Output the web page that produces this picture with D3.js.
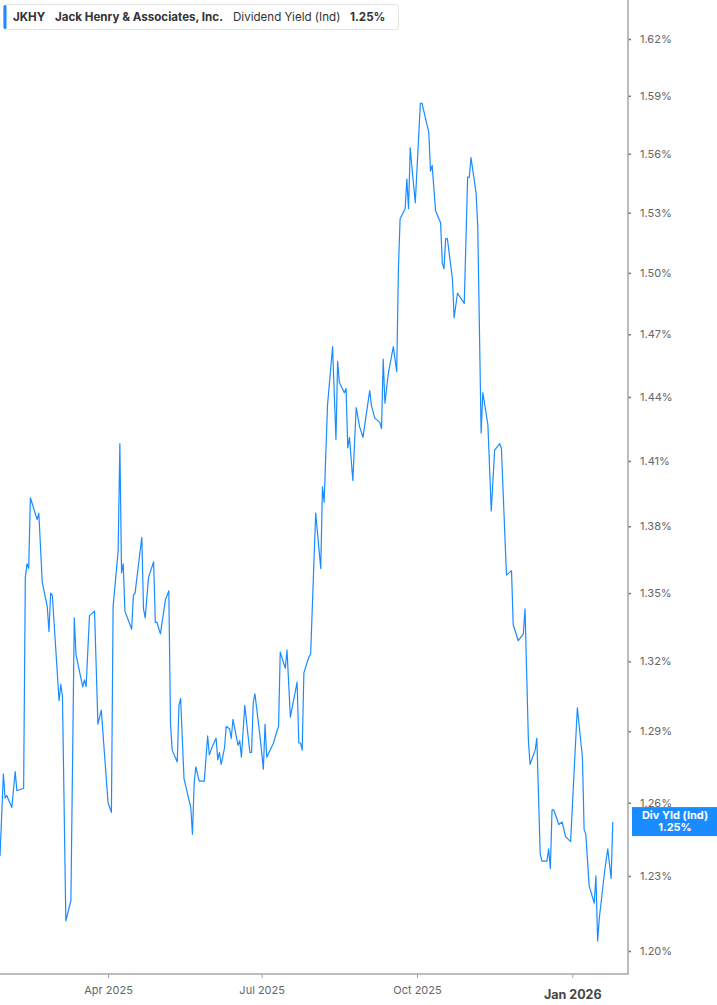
<!DOCTYPE html>
<html>
<head>
<meta charset="utf-8">
<script src="https://cdn.jsdelivr.net/npm/d3@7"></script>
<style>
    html, body { margin: 0; padding: 0; background: #fff; }
    svg { display: block; font-family: Inter, "Noto Sans", "DejaVu Sans", sans-serif; }
</style>
</head>
<body>
<div id="chart_parent"></div>
<script>
// values
const dates = [
    '2025-01-27', '2025-01-29', '2025-01-30', '2025-01-31', '2025-02-03', '2025-02-05', '2025-02-06', '2025-02-10',
    '2025-02-11', '2025-02-12', '2025-02-13', '2025-02-14', '2025-02-18', '2025-02-19', '2025-02-21', '2025-02-24',
    '2025-02-25', '2025-02-26', '2025-02-27', '2025-03-03', '2025-03-04', '2025-03-05', '2025-03-07', '2025-03-10',
    '2025-03-12', '2025-03-13', '2025-03-17', '2025-03-18', '2025-03-19', '2025-03-21', '2025-03-24', '2025-03-26',
    '2025-03-28', '2025-04-01', '2025-04-03', '2025-04-04', '2025-04-07', '2025-04-08', '2025-04-09', '2025-04-10',
    '2025-04-11', '2025-04-15', '2025-04-16', '2025-04-17', '2025-04-21', '2025-04-22', '2025-04-23', '2025-04-25',
    '2025-04-28', '2025-04-29', '2025-04-30', '2025-05-02', '2025-05-05', '2025-05-07', '2025-05-08', '2025-05-09',
    '2025-05-12', '2025-05-13', '2025-05-14', '2025-05-16', '2025-05-20', '2025-05-21', '2025-05-22', '2025-05-23',
    '2025-05-25', '2025-05-28', '2025-05-30', '2025-05-31', '2025-06-02', '2025-06-04', '2025-06-05', '2025-06-06',
    '2025-06-07', '2025-06-09', '2025-06-10', '2025-06-12', '2025-06-13', '2025-06-14', '2025-06-17', '2025-06-18',
    '2025-06-19', '2025-06-21', '2025-06-24', '2025-06-25', '2025-06-26', '2025-06-27', '2025-06-30', '2025-07-02',
    '2025-07-03', '2025-07-04', '2025-07-08', '2025-07-10', '2025-07-11', '2025-07-12', '2025-07-15', '2025-07-16',
    '2025-07-18', '2025-07-22', '2025-07-23', '2025-07-24', '2025-07-25', '2025-07-26', '2025-07-29', '2025-07-30',
    '2025-08-02', '2025-08-05', '2025-08-06', '2025-08-07', '2025-08-09', '2025-08-12', '2025-08-14', '2025-08-15',
    '2025-08-16', '2025-08-19', '2025-08-20', '2025-08-21', '2025-08-22', '2025-08-24', '2025-08-26', '2025-08-28',
    '2025-08-30', '2025-09-03', '2025-09-04', '2025-09-06', '2025-09-09', '2025-09-10', '2025-09-11', '2025-09-12',
    '2025-09-14', '2025-09-17', '2025-09-19', '2025-09-20', '2025-09-21', '2025-09-24', '2025-09-25', '2025-09-26',
    '2025-09-27', '2025-09-28', '2025-09-30', '2025-10-03', '2025-10-04', '2025-10-08', '2025-10-09', '2025-10-10',
    '2025-10-12', '2025-10-15', '2025-10-16', '2025-10-17', '2025-10-18', '2025-10-19', '2025-10-22', '2025-10-23',
    '2025-10-25', '2025-10-29', '2025-10-31', '2025-11-01', '2025-11-02', '2025-11-05', '2025-11-06', '2025-11-08',
    '2025-11-09', '2025-11-12', '2025-11-14', '2025-11-16', '2025-11-19', '2025-11-20', '2025-11-23', '2025-11-26',
    '2025-11-27', '2025-11-30', '2025-12-03', '2025-12-04', '2025-12-06', '2025-12-07', '2025-12-10', '2025-12-11',
    '2025-12-13', '2025-12-14', '2025-12-17', '2025-12-18', '2025-12-19', '2025-12-20', '2025-12-21', '2025-12-24',
    '2025-12-26', '2025-12-28', '2025-12-31', '2026-01-02', '2026-01-04', '2026-01-07', '2026-01-08', '2026-01-09',
    '2026-01-11', '2026-01-14', '2026-01-15', '2026-01-16', '2026-01-17', '2026-01-20', '2026-01-22', '2026-01-24',
    '2026-01-25',
];

const yieldValues = [
    1.238, 1.272, 1.262, 1.263, 1.258, 1.273, 1.265, 1.266,
    1.357, 1.363, 1.361, 1.393, 1.383, 1.386, 1.355, 1.344,
    1.333, 1.350, 1.349, 1.303, 1.310, 1.305, 1.212, 1.220,
    1.339, 1.323, 1.309, 1.312, 1.309, 1.340, 1.342, 1.293,
    1.299, 1.260, 1.256, 1.344, 1.369, 1.418, 1.359, 1.363,
    1.342, 1.334, 1.349, 1.350, 1.375, 1.343, 1.339, 1.357,
    1.364, 1.337, 1.337, 1.332, 1.347, 1.351, 1.293, 1.282,
    1.277, 1.301, 1.304, 1.270, 1.258, 1.247, 1.268, 1.275,
    1.269, 1.269, 1.288, 1.280, 1.284, 1.287, 1.278, 1.281,
    1.276, 1.283, 1.292, 1.291, 1.287, 1.295, 1.284, 1.286,
    1.279, 1.301, 1.281, 1.281, 1.302, 1.306, 1.288, 1.274,
    1.293, 1.279, 1.285, 1.290, 1.292, 1.324, 1.317, 1.325,
    1.296, 1.311, 1.285, 1.285, 1.282, 1.315, 1.322, 1.323,
    1.386, 1.361, 1.398, 1.391, 1.436, 1.464, 1.420, 1.457,
    1.447, 1.442, 1.444, 1.416, 1.421, 1.401, 1.435, 1.426,
    1.421, 1.443, 1.436, 1.430, 1.428, 1.425, 1.458, 1.437,
    1.451, 1.464, 1.452, 1.502, 1.527, 1.532, 1.547, 1.532,
    1.563, 1.553, 1.535, 1.586, 1.586, 1.571, 1.551, 1.554,
    1.531, 1.525, 1.505, 1.502, 1.517, 1.517, 1.497, 1.478,
    1.490, 1.485, 1.548, 1.548, 1.558, 1.540, 1.523, 1.423,
    1.442, 1.427, 1.387, 1.415, 1.418, 1.416, 1.358, 1.360,
    1.336, 1.329, 1.332, 1.343, 1.286, 1.276, 1.282, 1.287,
    1.239, 1.236, 1.236, 1.241, 1.233, 1.257, 1.257, 1.251,
    1.252, 1.246, 1.244, 1.272, 1.300, 1.279, 1.249, 1.247,
    1.226, 1.219, 1.230, 1.204, 1.213, 1.231, 1.241, 1.229,
    1.252,
];

const yTickValues = [1.20, 1.23, 1.26, 1.29, 1.32, 1.35, 1.38, 1.41, 1.44, 1.47, 1.50, 1.53, 1.56, 1.59, 1.62];
const xTickDates = ['2025-04-01', '2025-07-01', '2025-10-01', '2026-01-01'];
const xDomainDates = ['2025-01-27', '2026-02-03'];

const ticker = 'JKHY';
const companyName = 'Jack Henry & Associates, Inc.';
const metricName = 'Dividend Yield (Ind)';
const metricShort = 'Div Yld (Ind)';
const currentValue = '1.25%';

const chartConfig = {
    outerWidth: 717,
    outerHeight: 1005,
    plotRight: 628,
    plotBottom: 974,
    lineColor: '#1a8cff',
    axisColor: '#a6a6a6',
    labelColor: '#666',
};

const parseDate = d3.timeParse('%Y-%m-%d');

function initialiseChartElements(rootSelector, config) {
    const svg = d3.select(rootSelector).append('svg')
        .attr('width', config.outerWidth)
        .attr('height', config.outerHeight);

    const chartEl = svg.append('g');
    const xAxisGroup = svg.append('g').attr('class', 'x-axis-group');
    const yAxisGroup = svg.append('g').attr('class', 'y-axis-group');
    const legendGroup = svg.append('g').attr('class', 'legend');

    return { svg, chartEl, xAxisGroup, yAxisGroup, legendGroup };
}

function updateChart(config, elements, data) {
    const { svg, chartEl, xAxisGroup, yAxisGroup, legendGroup } = elements;

    const xScale = d3.scaleTime()
        .domain(xDomainDates.map(parseDate))
        .range([0, config.plotRight]);

    // log axis: 1.20% sits at 951px, 1.62% at 39px
    const yScale = d3.scaleLog()
        .domain([1.20, 1.62])
        .range([951, 39]);

    const line = d3.line()
        .x(d => xScale(d.date))
        .y(d => yScale(d.value));

    chartEl.append('path')
        .datum(data)
        .attr('fill', 'none')
        .attr('stroke', config.lineColor)
        .attr('stroke-width', 1.2)
        .attr('stroke-linejoin', 'round')
        .attr('d', line);

    // y axis on the right
    const yAxis = d3.axisRight(yScale)
        .tickValues(yTickValues)
        .tickSize(3)
        .tickPadding(9)
        .tickFormat(d => `${d.toFixed(2)}%`);

    yAxisGroup.attr('transform', `translate(${config.plotRight},0)`).call(yAxis);
    yAxisGroup.select('.domain').remove();
    yAxisGroup.append('line')
        .attr('y1', 0).attr('y2', config.plotBottom)
        .attr('stroke', config.axisColor).attr('stroke-width', 1.5);
    yAxisGroup.selectAll('.tick line').attr('stroke', '#777').attr('stroke-width', 1.5);
    yAxisGroup.selectAll('.tick text')
        .attr('fill', config.labelColor)
        .style('font-size', '11px')
        .style('font-family', 'Inter, sans-serif');

    // x axis at the bottom
    const xAxis = d3.axisBottom(xScale)
        .tickValues(xTickDates.map(parseDate))
        .tickSize(4)
        .tickPadding(8)
        .tickFormat(d3.timeFormat('%b %Y'));

    xAxisGroup.attr('transform', `translate(0,${config.plotBottom})`).call(xAxis);
    xAxisGroup.select('.domain').remove();
    xAxisGroup.append('line')
        .attr('x1', 0).attr('x2', config.plotRight + 0.75)
        .attr('stroke', config.axisColor).attr('stroke-width', 1.5);
    xAxisGroup.selectAll('.tick line').attr('stroke', config.axisColor);
    xAxisGroup.selectAll('.tick text')
        .attr('fill', config.labelColor)
        .style('font-size', '11px')
        .style('font-family', 'Inter, sans-serif');
    xAxisGroup.selectAll('.tick')
        .filter(d => d.getMonth() === 0)
        .select('text')
        .attr('fill', '#444')
        .attr('dy', '1.05em')
        .style('font-size', '12.5px')
        .style('font-weight', 'bold');

    // current value flag on the right axis
    const last = data[data.length - 1];
    const flagY = yScale(last.value);
    const flag = svg.append('g').attr('transform', `translate(${config.plotRight + 4},${flagY - 15})`);
    flag.append('rect')
        .attr('width', config.outerWidth - config.plotRight - 4)
        .attr('height', 29)
        .attr('fill', '#1a8cff');
    flag.append('text')
        .attr('x', 43).attr('y', 12)
        .attr('text-anchor', 'middle')
        .attr('fill', '#fff')
        .style('font-size', '11px')
        .style('font-weight', 'bold')
        .text(metricShort);
    flag.append('text')
        .attr('x', 43).attr('y', 24)
        .attr('text-anchor', 'middle')
        .attr('fill', '#fff')
        .style('font-size', '11px')
        .style('font-weight', 'bold')
        .text(currentValue);

    // legend box, top left
    legendGroup.append('rect')
        .attr('x', 3.5).attr('y', 4.5)
        .attr('width', 395).attr('height', 25)
        .attr('rx', 3)
        .attr('fill', '#fff')
        .attr('stroke', '#e2e2e2');
    legendGroup.append('rect')
        .attr('x', 3.5).attr('y', 5)
        .attr('width', 3).attr('height', 24)
        .attr('rx', 1.5)
        .attr('fill', '#1a8cff');

    const legendItems = [
        { x: 13, text: ticker, weight: 'bold' },
        { x: 55, text: companyName, weight: 'bold' },
        { x: 233, text: metricName, weight: 'normal' },
        { x: 350, text: currentValue, weight: 'bold' },
    ];
    legendGroup.selectAll('.legend-text')
        .data(legendItems)
        .enter()
        .append('text')
        .attr('class', 'legend-text')
        .attr('x', d => d.x)
        .attr('y', 21)
        .attr('fill', '#333')
        .style('font-size', '11.6px')
        .style('font-weight', d => d.weight)
        .text(d => d.text);
}

const chartElements = initialiseChartElements('#chart_parent', chartConfig);

const data = dates.map((d, i) => ({ date: parseDate(d), value: yieldValues[i] }));

updateChart(chartConfig, chartElements, data);
</script>
</body>
</html>
